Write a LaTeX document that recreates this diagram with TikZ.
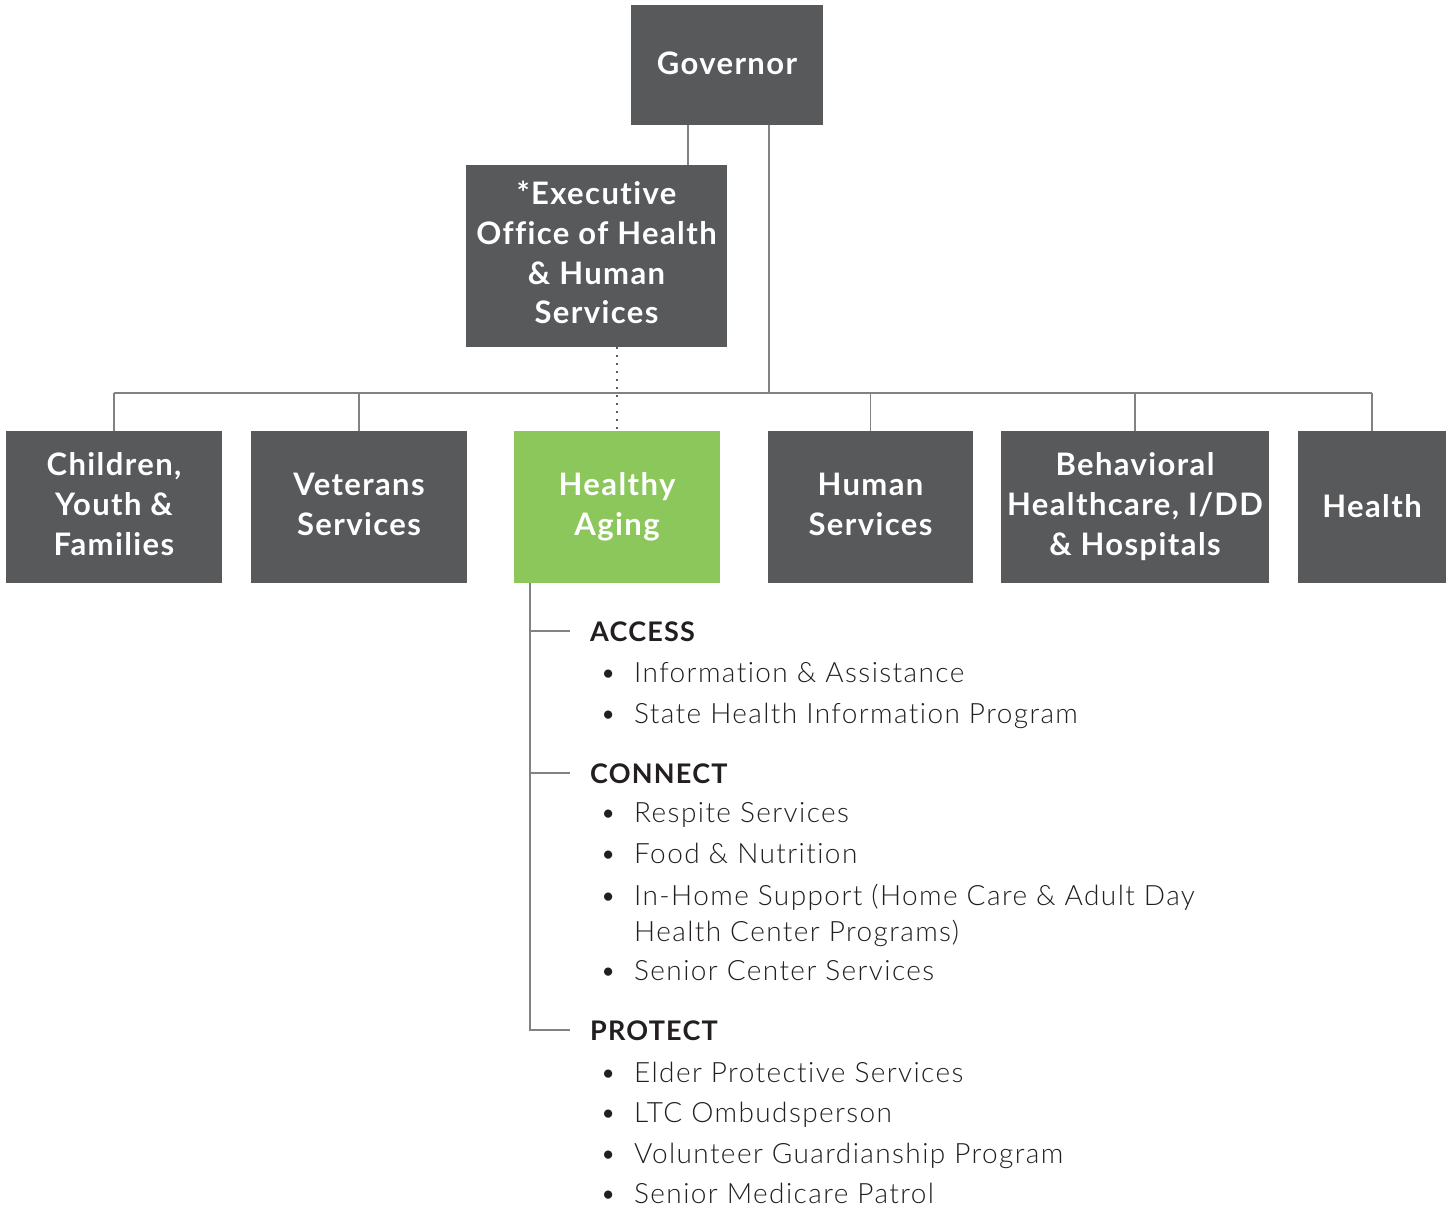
\documentclass[tikz,border=0pt]{standalone}
\usepackage{fontspec}
\setmainfont{Lato}[LetterSpace=4.5, Ligatures={NoCommon}]
\newfontfamily\lightfont{Lato Light}[LetterSpace=5, Ligatures={NoCommon}]
\definecolor{boxgray}{HTML}{58595B}
\definecolor{agegreen}{HTML}{8BC75B}
\definecolor{linegray}{HTML}{808285}
\definecolor{ink}{HTML}{231F20}
\tikzset{
  orgbox/.style={fill=boxgray, draw=none, inner sep=0pt, text=white, align=center,
    font=\fontsize{31}{40}\selectfont\bfseries},
  greenbox/.style={orgbox, fill=agegreen},
  conn/.style={draw=linegray, line width=1.5pt},
  dotconn/.style={draw=boxgray, line width=2pt, dash pattern=on 2pt off 6pt},
  head/.style={anchor=base west, inner sep=0pt, text=ink, font=\fontsize{27}{34}\selectfont\bfseries},
  item/.style={anchor=base west, inner sep=0pt, text=ink, font=\fontsize{28}{36}\selectfont\lightfont},
}
\newcommand{\bul}{\makebox[34pt][l]{•}}
\begin{document}
\begin{tikzpicture}[x=1pt,y=-1pt]
\useasboundingbox (0,0) rectangle (1449,1209);
% boxes
\node[orgbox, minimum width=192pt, minimum height=120pt] (Gov) at (727,65) {\raisebox{3pt}{Governor}};
\node[orgbox, minimum width=261pt, minimum height=182pt] (Exec) at (596.5,256) {\raisebox{3pt}{\begin{tabular}{@{}c@{}}*Executive\\Office of Health\\\& Human\\Services\end{tabular}}};
\node[orgbox, minimum width=216pt, minimum height=152pt] (Child) at (114,507) {\raisebox{2pt}{\begin{tabular}{@{}c@{}}Children,\\Youth \&\\Families\end{tabular}}};
\node[orgbox, minimum width=216pt, minimum height=152pt] (Vet) at (359,507) {\raisebox{2pt}{\begin{tabular}{@{}c@{}}Veterans\\Services\end{tabular}}};
\node[greenbox, minimum width=206pt, minimum height=152pt] (Aging) at (617,507) {Healthy\\Aging};
\node[orgbox, minimum width=205pt, minimum height=152pt] (Human) at (870.5,507) {\raisebox{2pt}{\begin{tabular}{@{}c@{}}Human\\Services\end{tabular}}};
\node[orgbox, minimum width=268pt, minimum height=152pt] (Behav) at (1135,507) {Behavioral\\Healthcare, I/DD\\\& Hospitals};
\node[orgbox, minimum width=148pt, minimum height=152pt] (Health) at (1372,507) {\raisebox{2pt}{Health}};
% helper coordinates
\coordinate (bus) at (0,393);
\coordinate (ex) at (688,0);
\coordinate (gx) at (769,0);
\coordinate (tr) at (530,0);
% connectors
\draw[conn] (ex |- Gov.south) -- (ex |- Exec.north);
\draw[conn] (gx |- Gov.south) -- (gx |- bus);
\draw[conn] (Child.north |- bus) -- (Health.north |- bus);
\foreach \n in {Child,Vet,Human,Behav,Health}{
  \draw[conn] (\n.north |- bus) -- (\n.north);
}
\draw[dotconn] (Aging.north |- Exec.south) -- (Aging.north);
% list
\node[head] (Access) at (590,641) {ACCESS};
\node[item] (a1) at (600,682) {\bul Information \& Assistance};
\node[item] (a2) at (600,723) {\bul State Health Information Program};
\node[head] (Connect) at (590,783) {CONNECT};
\node[item] (c1) at (600,822) {\bul Respite Services};
\node[item] (c2) at (600,863) {\bul Food \& Nutrition};
\node[item] (c3) at (600,905) {\bul In-Home Support (Home Care \& Adult Day};
\node[item] (c3b) at (634,941) {Health Center Programs)};
\node[item] (c4) at (600,980) {\bul Senior Center Services};
\node[head] (Protect) at (590,1040) {PROTECT};
\node[item] (p1) at (600,1082) {\bul Elder Protective Services};
\node[item] (p2) at (600,1122) {\bul LTC Ombudsperson};
\node[item] (p3) at (600,1163) {\bul Volunteer Guardianship Program};
\node[item] (p4) at (600,1203) {\bul Senior Medicare Patrol};
% tree
\draw[conn] (tr |- Aging.south) -- (tr |- Protect.west) -- ([xshift=-20pt]Protect.west);
\draw[conn] (tr |- Access.west) -- ([xshift=-20pt]Access.west);
\draw[conn] (tr |- Connect.west) -- ([xshift=-20pt]Connect.west);
\end{tikzpicture}
\end{document}
